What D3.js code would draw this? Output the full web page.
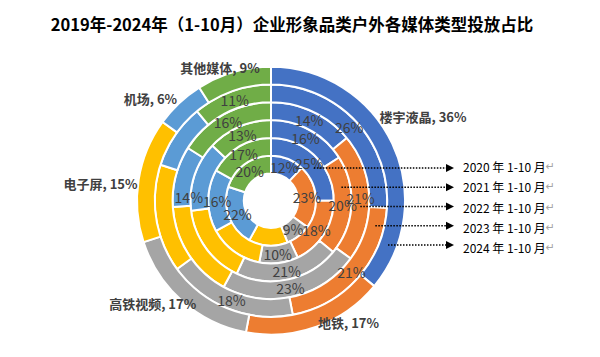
<!DOCTYPE html>
<html><head><meta charset="utf-8">
<script src="https://cdn.jsdelivr.net/npm/d3@7/dist/d3.min.js"></script>
<style>
html,body{margin:0;padding:0;background:#fff;}
svg{display:block;font-family:"Noto Sans CJK SC","Noto Sans",sans-serif;}
</style></head>
<body>
<svg id="chart" width="600" height="357"></svg>
<script>
// ---- data ----
const categories = ["楼宇液晶", "地铁", "高铁视频", "电子屏", "机场", "其他媒体"];
const years = ["2019", "2020", "2021", "2022", "2023", "2024"];
const share2019 = [12, 23, 9, 14, 22, 20];
const share2020 = [25, 18, 10, 14, 16, 17];
const share2021 = [16, 20, 21, 16, 14, 13];
const share2022 = [14, 21, 23, 16, 10, 16];
const share2023 = [26, 21, 18, 15, 9, 11];
const share2024 = [36, 17, 17, 15, 6, 9];
const colors = ["#4472C4", "#ED7D31", "#A5A5A5", "#FFC000", "#5B9BD5", "#70AD47"];
const legendYears = ["2020", "2021", "2022", "2023", "2024"];
const legendLabels = ["2020 年 1-10 月", "2021 年 1-10 月", "2022 年 1-10 月", "2023 年 1-10 月", "2024 年 1-10 月"];
// inner labels not shown in the reference: [year, category]
const hiddenLabels = [["2019","电子屏"],["2020","电子屏"],["2021","电子屏"],["2022","电子屏"],["2023","电子屏"],["2022","机场"],["2023","机场"]];
const titleText = "2019年-2024年（1-10月）企业形象品类户外各媒体类型投放占比";

const series = [share2019, share2020, share2021, share2022, share2023, share2024];

// ---- layout ----
const svg = d3.select("#chart");
const cx = 271, cy = 200.7, R = 134, r0 = 27.2;
const ringW = (R - r0) / years.length;
const g = svg.append("g").attr("transform", `translate(${cx},${cy})`);
const gRings = g.append("g");
const gLabels = g.append("g");

const pie = d3.pie().sort(null).value(d => d.v).startAngle(0).endAngle(2 * Math.PI);
const outerAdj = {"楼宇液晶": [-3.9, 40], "地铁": [-12.7, 10.2], "高铁视频": [7.5, 23], "电子屏": [-3.4, 37.3], "机场": [-6.4, 24.3], "其他媒体": [-4.8, 8.4]};

series.forEach((vals, k) => {
  const inner = r0 + k * ringW, outer = inner + ringW;
  const arc = d3.arc().innerRadius(inner).outerRadius(outer);
  const data = pie(vals.map((v, i) => ({v, cat: categories[i], i})));
  gRings.append("g").attr("class", "ring-" + years[k])
    .selectAll("path").data(data).enter().append("path")
    .attr("d", arc)
    .attr("fill", d => colors[d.data.i])
    .attr("stroke", "#fff").attr("stroke-width", 2).attr("stroke-linejoin", "round");

  const lg = gLabels.append("g");
  if (k < years.length - 1) {
    lg.selectAll("text").data(data.filter(d => !hiddenLabels.some(h => h[0] === years[k] && h[1] === d.data.cat)))
      .enter().append("text")
      .attr("transform", d => {
        let [x, y] = arc.centroid(d);
        if (years[k] === "2021" && d.data.cat === "机场") { x -= 14; y += 18.5; }
        return `translate(${x},${y})`;
      })
      .attr("text-anchor", "middle").attr("dominant-baseline", "central")
      .attr("font-size", 14).attr("fill", "#404040")
      .text(d => d.data.v + "%");
  } else {
    lg.selectAll("text").data(data).enter().append("text")
      .attr("transform", d => {
        const a = (d.startAngle + d.endAngle) / 2 + outerAdj[d.data.cat][0] * Math.PI / 180;
        const rr = R + outerAdj[d.data.cat][1];
        return `translate(${rr * Math.sin(a)},${-rr * Math.cos(a)})`;
      })
      .attr("text-anchor", "middle").attr("dominant-baseline", "central")
      .attr("font-size", 13).attr("font-weight", "bold").attr("fill", "#404040")
      .text(d => d.data.cat + ", " + d.data.v + "%");
  }
});

// ---- legend arrows ----
const legY = d3.scalePoint().domain(legendYears).range([168, 245]);
const textY = d3.scalePoint().domain(legendYears).range([166, 247]);
const tipX = 454;
legendYears.forEach((yr, j) => {
  const k = years.indexOf(yr);
  const rMid = r0 + (k + 0.5) * ringW;
  const y = legY(yr);
  const dy = y - cy;
  const x0 = cx + Math.sqrt(Math.max(0, rMid * rMid - dy * dy));
  svg.append("line").attr("x1", x0).attr("x2", tipX - 7).attr("y1", y).attr("y2", y)
    .attr("stroke", "#000").attr("stroke-width", 1.5).attr("stroke-dasharray", "1.5,1.5");
  svg.append("path").attr("d", `M${tipX - 8},${y - 4}L${tipX},${y}L${tipX - 8},${y + 4}Z`).attr("fill", "#000");
  const t = svg.append("text").attr("x", 463).attr("y", textY(yr)).attr("dominant-baseline", "central")
    .attr("font-size", 12).attr("fill", "#000");
  t.append("tspan").text(legendLabels[j]);
  t.append("tspan").attr("fill", "#a6a6a6").attr("font-family", "DejaVu Sans").attr("font-size", 11).text("↵");
});

// ---- title ----
svg.append("text").attr("x", 292).attr("y", 24).attr("text-anchor", "middle").attr("dominant-baseline", "central")
  .attr("font-size", 16.5).attr("font-weight", "bold").attr("fill", "#000").text(titleText);
</script>
</body></html>
